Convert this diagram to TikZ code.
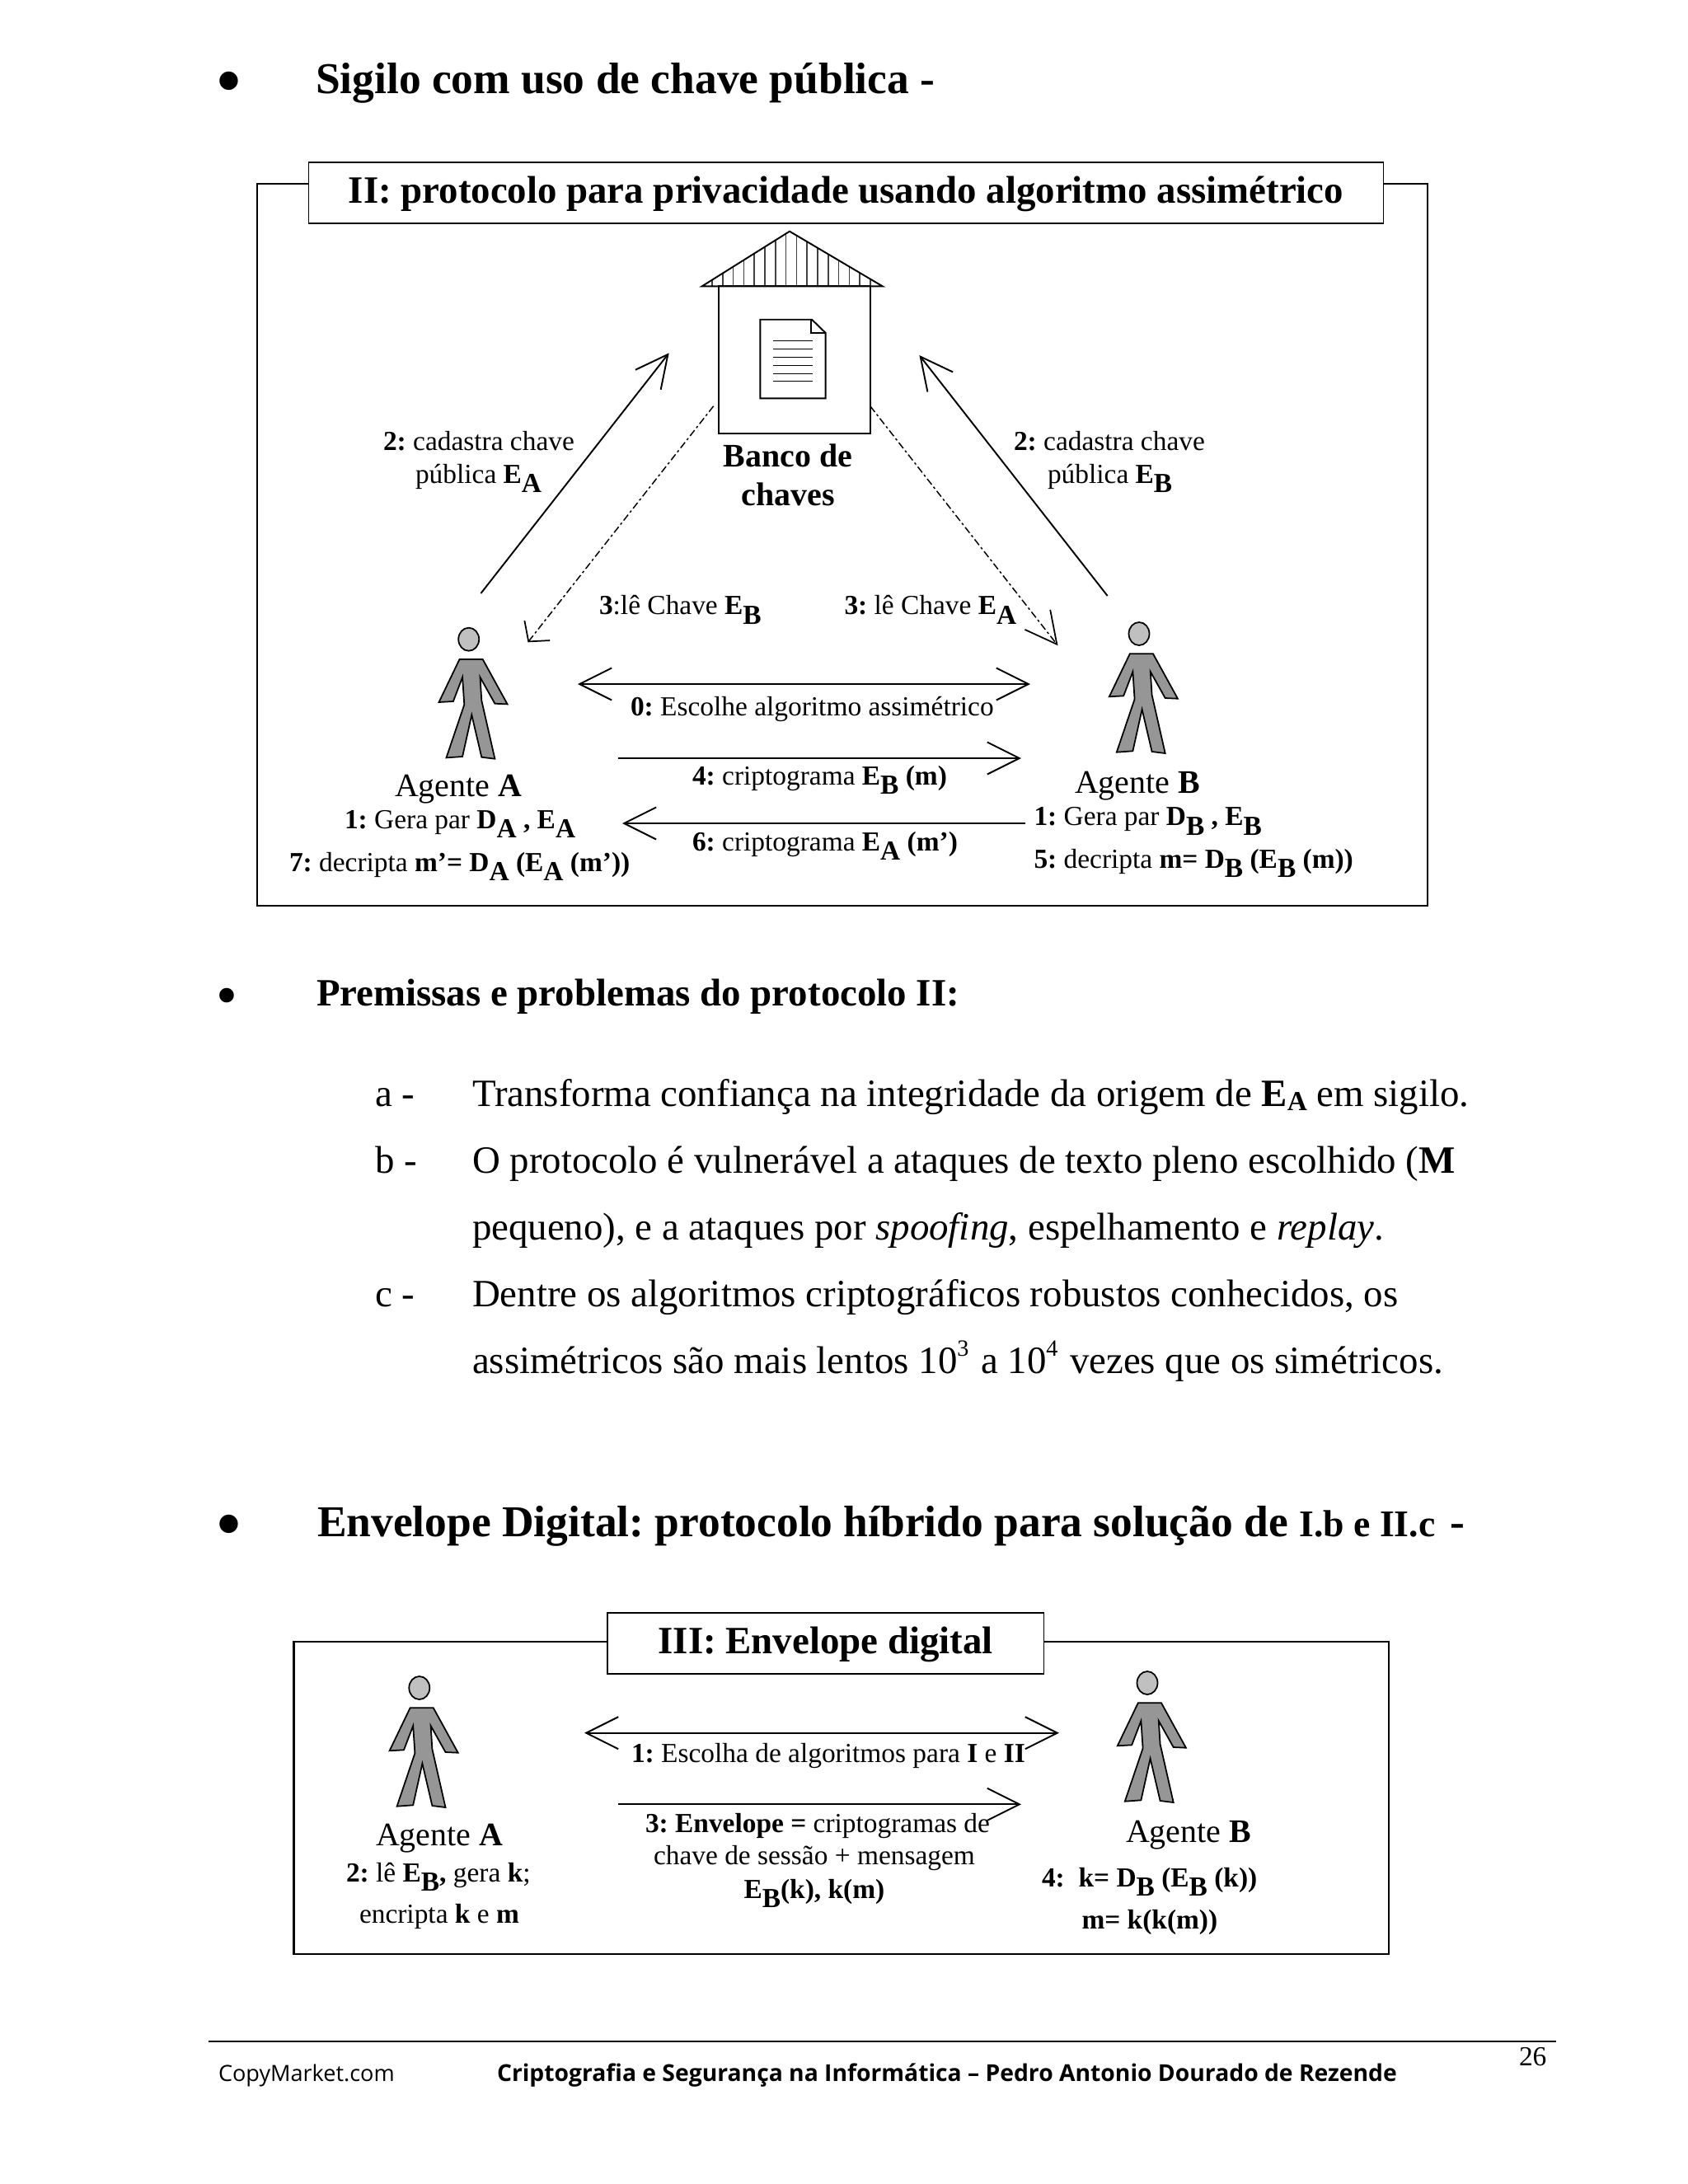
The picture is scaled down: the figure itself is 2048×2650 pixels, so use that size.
\documentclass[tikz,border=0pt]{standalone}
\usepackage{fontspec}
\setmainfont{Liberation Serif}
\newfontfamily\footfont{Open Sans}
\usetikzlibrary{arrows.meta}
\frenchspacing
\definecolor{agentbody}{RGB}{150,150,150}
\definecolor{agenthead}{RGB}{192,192,192}
\newcommand{\lowb}[1]{\raisebox{-3.4pt}{\textbf{#1}}}
\newcommand{\lows}[1]{\raisebox{-1.6pt}{\fontsize{9.5}{12}\selectfont\textbf{#1}}}
\newcommand{\upn}[1]{\raisebox{5.7pt}{\fontsize{8}{9}\selectfont #1}\kern.8pt\relax}
\tikzset{
  txt/.style={anchor=base west,inner sep=0pt,outer sep=0pt},
  lbl/.style={txt,font=\fontsize{9.5}{11}\selectfont},
  agentname/.style={txt,font=\fontsize{11.35}{13}\selectfont},
  bodytxt/.style={txt,font=\fontsize{13.33}{16}\selectfont},
  headtxt/.style={txt,font=\fontsize{15.2}{18}\selectfont\bfseries},
  titlebox/.style={draw,fill=white,line width=.4pt,inner sep=0pt,font=\fontsize{13.33}{16}\selectfont\bfseries},
  frame/.style={line width=.65pt},
  arrowline/.style={line width=.55pt,-{Straight Barb[length=.39cm,width=.39cm]}},
  twoway/.style={line width=.55pt,{Straight Barb[length=.39cm,width=.39cm]}-{Straight Barb[length=.39cm,width=.39cm]}},
  readline/.style={line width=.42pt,dash pattern=on 2.5pt off 1pt on .8pt off 1pt},
  agent/.pic={
    \draw[fill=agentbody,line width=.5pt,line join=miter] (-11.2,24.3) -- (17,24.3) -- (46.9,78.7) -- (31.7,78) -- (13.8,46) -- (15.6,74.3) -- (31.7,145) -- (15.6,143) -- (3.6,91.7) -- (-7.6,142.3) -- (-27.2,143.7) -- (-5.4,79.3) -- (-7.6,46) -- (-18.8,75.3) -- (-36.2,76.3) -- cycle;
    \draw[fill=agenthead,line width=.5pt] (0,0) ellipse (12.5 and 14);
  }
}
\begin{document}
\begin{tikzpicture}[x=.01cm,y=-.01cm]
  \useasboundingbox (0,0) rectangle (2048,2650);

  % heading
  \node[txt,font=\fontsize{26.7}{30}\selectfont] (bulletone) at (261.4,129.3) {•};
  \node[headtxt] (headone) at (383,113) {Sigilo com uso de chave pública -};

  % protocol II
  \draw[frame] (312,223) rectangle (1732,1099);
  \node[titlebox,minimum width=13.03cm,text height=.495cm,text depth=.245cm] (titletwo) at (1026.5,234) {II: protocolo para privacidade usando algoritmo assimétrico};

  % key bank
  \begin{scope}
    \clip (958,280.7) -- (1070.7,347.3) -- (851.7,347.3) -- cycle;
    \foreach \x in {0,...,15}
      \draw[line width=.5pt,black!75] ({864+12.8*\x},280) -- ({864+12.8*\x},348);
  \end{scope}
  \draw[line width=.55pt] (958,280.7) -- (1070.7,347.3) -- (851.7,347.3) -- cycle;
  \draw[line width=.55pt] (871.7,347.3) rectangle (1056,525.7);
  \draw[line width=.55pt] (922.3,387.7) -- (985,387.7) -- (1001.7,404) -- (1001.7,483.3) -- (922.3,483.3) -- cycle;
  \draw[line width=.55pt] (984,387.7) -- (984,404) -- (1001.7,404);
  \foreach \y in {413.3,423.3,433.3,443.3,453.3,462.3}
    \draw[line width=.35pt] (938.3,\y) -- (986,\y);
  \node[txt,anchor=base,font=\fontsize{11.35}{13}\selectfont\bfseries] (bankone) at (956,566) {Banco de};
  \node[txt,anchor=base,font=\fontsize{11.35}{13}\selectfont\bfseries] (banktwo) at (956,613) {chaves};

  % agents of II
  \pic (agenta) at (568.7,775.7) {agent};
  \pic (agentb) at (1382,769) {agent};
  \node[agentname] (nameA) at (479,966.5) {Agente \textbf{A}};
  \node[agentname] (nameB) at (1304,962) {Agente \textbf{B}};

  % connectors of II
  \coordinate (regAfrom) at (583.4,720);
  \coordinate (regAto) at (811.7,428.3);
  \coordinate (regBfrom) at (1343.7,723);
  \coordinate (regBto) at (1115.4,431);
  \coordinate (readAfrom) at (865.7,492.7);
  \coordinate (readAto) at (640.5,779.3);
  \coordinate (readBfrom) at (1056,493);
  \coordinate (readBto) at (1283.5,783.3);
  \coordinate (zeroL) at (701,830);
  \coordinate (zeroR) at (1250,830);
  \coordinate (fourL) at (750,920);
  \coordinate (fourR) at (1239,920);
  \coordinate (sixL) at (755,999);
  \coordinate (sixR) at (1244,999);
  \draw[arrowline] (regAfrom) -- (regAto);
  \draw[arrowline] (regBfrom) -- (regBto);
  \draw[readline,-{Straight Barb[length=.17cm,width=.39cm,line width=.5pt]}] (readAfrom) -- (readAto);
  \draw[readline,-{Straight Barb[length=.38cm,width=.39cm,line width=.5pt]}] (readBfrom) -- (readBto);
  \draw[twoway] (zeroL) -- (zeroR);
  \draw[arrowline] (fourL) -- (fourR);
  \draw[arrowline] (sixR) -- (sixL);

  % labels of II
  \node[lbl] (regAone) at (465,546) {\textbf{2:} cadastra chave};
  \node[lbl] (regAtwo) at (504,586) {pública \textbf{E}\lowb{A}};
  \node[lbl] (regBone) at (1230,546) {\textbf{2:} cadastra chave};
  \node[lbl] (regBtwo) at (1271,586) {pública \textbf{E}\lowb{B}};
  \node[lbl] (readB) at (727,745.5) {\textbf{3}:lê Chave \textbf{E}\lowb{B}};
  \node[lbl] (readA) at (1024.5,745.5) {\textbf{3:} lê Chave \textbf{E}\lowb{A}};
  \node[lbl] (zerotxt) at (765,868) {\textbf{0:} Escolhe algoritmo assimétrico};
  \node[lbl] (fourtxt) at (840,952) {\textbf{4:} criptograma \textbf{E}\lowb{B} \textbf{(m)}};
  \node[lbl] (sixtxt) at (840,1032) {\textbf{6:} criptograma \textbf{E}\lowb{A} \textbf{(m’)}};
  \node[lbl] (geraA) at (418,1005) {\textbf{1:} Gera par \textbf{D}\lowb{A} \textbf{,} \textbf{E}\lowb{A}};
  \node[lbl] (decA) at (351,1057) {\textbf{7:} decripta \textbf{m’= D}\lowb{A} \textbf{(E}\lowb{A} \textbf{(m’))}};
  \node[lbl] (geraB) at (1254.5,1001.7) {\textbf{1:} Gera par \textbf{D}\lowb{B} \textbf{,} \textbf{E}\lowb{B}};
  \node[lbl] (decB) at (1254.5,1053) {\textbf{5:} decripta \textbf{m= D}\lowb{B} \textbf{(E}\lowb{B} \textbf{(m))}};

  % premises
  \node[txt,font=\fontsize{21}{25}\selectfont] (bullettwo) at (262,1232) {•};
  \node[txt,font=\fontsize{13.33}{16}\selectfont\bfseries] (headtwo) at (384,1220) {Premissas e problemas do protocolo II:};
  \node[bodytxt] (itema) at (455,1342) {a -};
  \node[bodytxt] (linea) at (573,1342) {Transforma confiança na integridade da origem de \textbf{E}\lows{A} em sigilo.};
  \node[bodytxt] (itemb) at (455,1423) {b -};
  \node[bodytxt] (lineb) at (573,1423) {O protocolo é vulnerável a ataques de texto pleno escolhido (\textbf{M}};
  \node[bodytxt] (linebb) at (573,1504) {pequeno), e a ataques por \textit{spoofing}, espelhamento e \textit{replay}.};
  \node[bodytxt] (itemc) at (455,1585) {c -};
  \node[bodytxt] (linec) at (573,1585) {Dentre os algoritmos criptográficos robustos conhecidos, os};
  \node[bodytxt] (linecc) at (573,1666) {assimétricos são mais lentos 10\upn{3} a 10\upn{4} vezes que os simétricos.};

  % second heading
  \node[txt,font=\fontsize{26.7}{30}\selectfont] (bulletthree) at (261.4,1880) {•};
  \node[headtxt] (headthree) at (385,1864) {Envelope Digital: protocolo híbrido para solução de {\fontsize{13}{16}\selectfont I.b e II.c}\kern1.4pt\ -};

  % protocol III
  \draw[frame] (356.5,1992) rectangle (1685,2371);
  \node[titlebox,minimum width=5.295cm,text height=.49cm,text depth=.25cm] (titlethree) at (1001.7,1994) {III: Envelope digital};
  \pic (agentc) at (508.8,2048) {agent};
  \pic (agentd) at (1392,2042) {agent};
  \coordinate (oneL) at (709,2102.7);
  \coordinate (oneR) at (1285,2102.7);
  \coordinate (threeL) at (750,2189.3);
  \coordinate (threeR) at (1239,2189.3);
  \draw[twoway] (oneL) -- (oneR);
  \draw[arrowline] (threeL) -- (threeR);
  \node[agentname] (nameC) at (456,2239) {Agente \textbf{A}};
  \node[agentname] (nameD) at (1366,2235) {Agente \textbf{B}};
  \node[lbl] (lerE) at (420,2283) {\textbf{2:} lê \textbf{E}\lowb{B}\textbf{,} gera \textbf{k};};
  \node[lbl] (encr) at (436,2333) {encripta \textbf{k} e \textbf{m}};
  \node[lbl] (onetxt) at (766,2138) {\textbf{1:} Escolha de algoritmos para \textbf{I} e \textbf{II}};
  \node[lbl] (envone) at (783,2223) {\textbf{3: Envelope =} criptogramas de};
  \node[lbl] (envtwo) at (793,2262) {chave de sessão + mensagem};
  \node[lbl] (envthree) at (902.5,2303) {\textbf{E}\lowb{B}\textbf{(k), k(m)}};
  \node[lbl] (keyk) at (1264,2289) {\textbf{4:\ \ k= D}\lowb{B} \textbf{(E}\lowb{B} \textbf{(k))}};
  \node[lbl] (keym) at (1312.5,2340) {\textbf{m= k(k(m))}};

  % footer
  \coordinate (ruleL) at (252.7,2476.7);
  \coordinate (ruleR) at (1887.6,2476.7);
  \draw[line width=.55pt] (ruleL) -- (ruleR);
  \node[txt,font=\fontsize{9.5}{11}\selectfont] (pagenum) at (1843,2506) {26};
  \node[txt,font=\footfont\fontsize{7.7}{9}\selectfont] (copym) at (265,2525) {CopyMarket.com};
  \node[txt,font=\footfont\bfseries\fontsize{8.04}{9}\selectfont] (foottxt) at (603,2525) {Criptografia e Segurança na Informática – Pedro Antonio Dourado de Rezende};
\end{tikzpicture}
\end{document}
